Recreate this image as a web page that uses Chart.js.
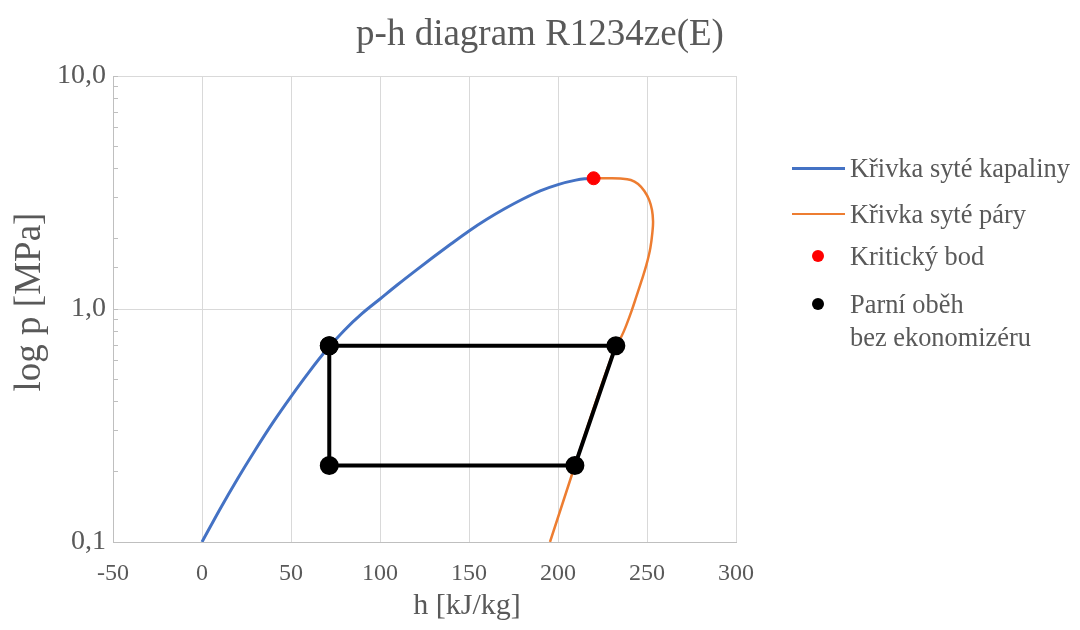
<!DOCTYPE html>
<html>
<head>
<meta charset="utf-8">
<script src="https://cdn.jsdelivr.net/npm/chart.js@4"></script>
<style>
    body { margin: 0; background: #fff; }
    #wrap { position: relative; width: 1080px; height: 630px; }
    #legend { position: absolute; left: 0; top: 0; font-family: "Liberation Serif", "Times New Roman", serif; font-size: 26.4px; color: #595959; }
    .item { position: absolute; white-space: nowrap; line-height: 31px; }
    .mark { position: absolute; }
</style>
</head>
<body>
<div id="wrap">
    <canvas id="chart" width="1080" height="630"></canvas>
    <div id="legend"></div>
</div>
<script>
// saturated liquid curve, h [kJ/kg]
var liquidH = [0, 10, 20, 30, 40, 50, 60, 70, 80, 90, 100, 110, 120, 130, 140, 150, 160, 170, 180, 190, 200, 210, 215, 220]
// p [MPa]
var liquidP = [0.100, 0.138, 0.187, 0.249, 0.327, 0.421, 0.535, 0.668, 0.811, 0.957, 1.104, 1.274, 1.462, 1.671, 1.905, 2.163, 2.427, 2.692, 2.958, 3.214, 3.420, 3.573, 3.622, 3.64]

// saturated vapour curve, from critical point down
var vapourH = [220, 228.5, 235, 240.9, 245, 248.5, 251.2, 252.8, 253.4, 253.1, 251.9, 249.7, 246.9, 244.1, 241.3, 238.5, 235.7, 232.5, 220.7, 209.5, 195.5]
var vapourP = [3.64, 3.64, 3.63, 3.58, 3.44, 3.21, 2.94, 2.66, 2.38, 2.16, 1.83, 1.55, 1.32, 1.135, 0.979, 0.857, 0.764, 0.695, 0.389, 0.213, 0.1]

var criticalH = [220]
var criticalP = [3.64]

// cycle without economizer
var cycleH = [71.5, 232.5, 209.5, 71.5, 71.5]
var cycleP = [0.695, 0.695, 0.213, 0.213, 0.695]

var xTicks = [-50, 0, 50, 100, 150, 200, 250, 300]

var labels = ["Křivka syté kapaliny", "Křivka syté páry", "Kritický bod", "Parní oběh\nbez ekonomizéru"]
var xTitle = 'h [kJ/kg]'
var yTitle = 'log p [MPa]'

function pts(hs, ps) {
    return hs.map((h, i) => ({ x: h, y: ps[i] }))
}

var textColor = '#595959'
var serif = "'Liberation Serif', 'Times New Roman', serif"

// axis titles placed like in the original (not centred on the plot)
var axisTitles = {
    id: 'axisTitles',
    afterDraw: (chart) => {
        var c = chart.ctx
        c.save()
        c.fillStyle = textColor
        c.textAlign = 'center'
        c.textBaseline = 'middle'
        c.font = "30px " + serif
        c.fillText(xTitle, 467, 606)
        c.translate(30, 302)
        c.rotate(-Math.PI / 2)
        c.font = "37px " + serif
        c.fillText(yTitle, 0, 0)
        c.restore()
    }
}

var ctx = document.getElementById("chart").getContext('2d')

var chart = new Chart(ctx, {
    type: 'scatter',
    data: {
        datasets: [{
            label: labels[0],
            data: pts(liquidH, liquidP),
            showLine: true,
            borderColor: '#4472C4',
            backgroundColor: '#4472C4',
            borderWidth: 3,
            pointRadius: 0,
            cubicInterpolationMode: 'monotone',
            order: 3
        }, {
            label: labels[1],
            data: pts(vapourH, vapourP),
            showLine: true,
            borderColor: '#ED7D31',
            backgroundColor: '#ED7D31',
            borderWidth: 2.5,
            pointRadius: 0,
            tension: 0.4,
            order: 2
        }, {
            label: labels[2],
            data: pts(criticalH, criticalP),
            backgroundColor: '#FF0000',
            borderColor: '#FF0000',
            pointRadius: 6.5,
            order: 0
        }, {
            label: labels[3],
            data: pts(cycleH, cycleP),
            showLine: true,
            borderColor: '#000000',
            backgroundColor: '#000000',
            borderWidth: 4,
            pointRadius: 7.5,
            tension: 0,
            order: 1
        }]
    },
    options: {
        responsive: false,
        animation: false,
        layout: { padding: 0 },
        plugins: {
            legend: { display: false },
            tooltip: { enabled: false },
            title: {
                display: true,
                text: 'p-h diagram R1234ze(E)',
                color: textColor,
                font: { family: serif, size: 37, weight: 'normal' },
                padding: { top: 13, bottom: 18.6 }
            }
        },
        scales: {
            x: {
                type: 'linear',
                min: -50,
                max: 300,
                afterBuildTicks: (scale) => { scale.ticks = xTicks.map(v => ({ value: v })) },
                afterFit: (scale) => { scale.height = 88 },
                ticks: { color: textColor, font: { family: serif, size: 24 }, padding: 17 },
                grid: { color: '#d9d9d9', lineWidth: 1, drawTicks: false },
                border: { color: '#bfbfbf' }
            },
            y: {
                type: 'logarithmic',
                min: 0.1,
                max: 10,
                afterFit: (scale) => { scale.width = 113 },
                ticks: {
                    autoSkip: false,
                    color: textColor,
                    font: { family: serif, size: 28 },
                    padding: 12,
                    callback: (v) => {
                        var l = Math.log10(v)
                        if (Math.abs(l - Math.round(l)) < 1e-6) return v.toFixed(1).replace('.', ',')
                        return ''
                    }
                },
                grid: {
                    color: (c) => {
                        var l = Math.log10(c.tick.value)
                        return Math.abs(l - Math.round(l)) < 1e-6 ? '#d9d9d9' : 'rgba(0,0,0,0)'
                    },
                    tickColor: '#bfbfbf',
                    tickLength: -5
                },
                border: { color: '#bfbfbf' }
            },
            // empty box that keeps room for the legend on the right
            spacer: {
                type: 'linear',
                position: 'right',
                display: true,
                afterFit: (scale) => { scale.width = 344 },
                ticks: { display: false },
                grid: { display: false, drawTicks: false },
                border: { display: false }
            }
        }
    },
    plugins: [axisTitles]
})

// legend built from the datasets
var legend = document.getElementById("legend")
var rows = [168, 214, 256, 304]
chart.data.datasets.forEach((ds, i) => {
    var mark = document.createElement('div')
    mark.className = 'mark'
    if (i < 2) {
        mark.style.left = '792px'
        mark.style.top = (rows[i] - 1.5) + 'px'
        mark.style.width = '53px'
        mark.style.height = ds.borderWidth + 'px'
        mark.style.background = ds.borderColor
    } else {
        mark.style.left = '812px'
        mark.style.top = (rows[i] - 6) + 'px'
        mark.style.width = '12px'
        mark.style.height = '12px'
        mark.style.borderRadius = '50%'
        mark.style.background = ds.backgroundColor
    }
    legend.appendChild(mark)
    ds.label.split('\n').forEach((line, j) => {
        var t = document.createElement('div')
        t.className = 'item'
        t.textContent = line
        t.style.left = '850px'
        t.style.top = (rows[i] - 15.5 + j * 33) + 'px'
        legend.appendChild(t)
    })
})
</script>
</body>
</html>
